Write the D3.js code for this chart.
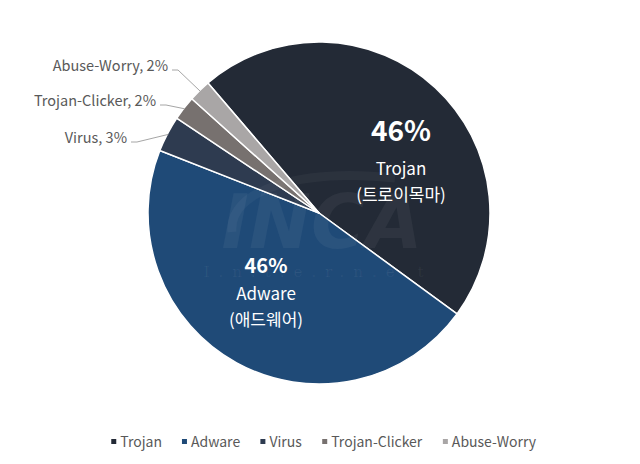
<!DOCTYPE html>
<html>
<head>
<meta charset="utf-8">
<script src="https://cdn.jsdelivr.net/npm/d3@7"></script>
<style>
  body { margin: 0; background: #fff; }
  svg { display: block; font-family: "Noto Sans CJK KR", "Noto Sans", sans-serif; }
</style>
</head>
<body>
<svg id="chart" width="640" height="464"></svg>
<script>
// share of detections by type (%)
var categories = ["Trojan", "Adware", "Virus", "Trojan-Clicker", "Abuse-Worry"];
var values = [46.3, 45.9, 3.4, 2.3, 2.1];
var pctLabels = ["46%", "46%", "3%", "2%", "2%"];
var koNames = ["(트로이목마)", "(애드웨어)", "", "", ""];
var colors = ["#232a36", "#1f4a77", "#2e3b50", "#77716f", "#a9a6a6"];

var svg = d3.select("#chart");
var cx = 319, cy = 213, radius = 171;

var data = categories.map(function(c, i) {
    return { name: c, value: values[i], pct: pctLabels[i], ko: koNames[i], color: colors[i] };
});

var pie = d3.pie()
    .sort(null)
    .value(function(d) { return d.value; })
    .startAngle(-40.5 * Math.PI / 180)
    .endAngle(319.5 * Math.PI / 180);

var arc = d3.arc().innerRadius(0).outerRadius(radius);
var edge = d3.arc().innerRadius(radius - 1).outerRadius(radius - 1);

var g = svg.append("g").attr("transform", "translate(" + cx + "," + cy + ")");
var arcs = pie(data);

g.selectAll("path.slice")
    .data(arcs)
    .enter().append("path")
    .attr("class", "slice")
    .attr("d", arc)
    .style("fill", function(d) { return d.data.color; })
    .style("stroke", "#fff")
    .style("stroke-width", 1.5)
    .style("stroke-linejoin", "round");

// faint watermark
var wm = svg.append("g").style("pointer-events", "none");
wm.append("path")
    .attr("d", "M232,232 C228,190 300,168 395,178")
    .style("fill", "none")
    .style("stroke", "#fff")
    .style("stroke-opacity", 0.04)
    .style("stroke-width", 9);
wm.append("text")
    .attr("x", 322).attr("y", 248)
    .attr("text-anchor", "middle")
    .style("font-family", "'DejaVu Sans', sans-serif")
    .style("font-weight", "bold")
    .style("font-style", "italic")
    .style("font-size", "74px")
    .style("fill", "#fff")
    .style("fill-opacity", 0.05)
    .text("INCA");
wm.append("text")
    .attr("x", 318).attr("y", 277)
    .attr("text-anchor", "middle")
    .style("font-family", "'DejaVu Serif', serif")
    .style("font-size", "15px")
    .style("letter-spacing", "9px")
    .style("fill", "#fff")
    .style("fill-opacity", 0.06)
    .text("I.n.t.e.r.n.e.t");

// labels inside the two big slices
var inside = [
    { i: 0, x: 401, ys: [141, 175, 201], big: 28 },
    { i: 1, x: 266, ys: [273, 300, 326], big: 20 }
];
inside.forEach(function(L) {
    var d = data[L.i];
    var t = svg.append("g").style("fill", "#fff").attr("text-anchor", "middle");
    t.append("text").attr("x", L.x).attr("y", L.ys[0])
        .style("font-size", L.big + "px").style("font-weight", "bold").text(d.pct);
    t.append("text").attr("x", L.x).attr("y", L.ys[1])
        .style("font-size", "17px").text(d.name);
    t.append("text").attr("x", L.x).attr("y", L.ys[2])
        .style("font-size", "17px").text(d.ko);
});

// outside labels with leader lines for the small slices
var outside = { "Virus": [127, 138], "Trojan-Clicker": [156, 101], "Abuse-Worry": [168, 66] };
arcs.filter(function(a) { return outside[a.data.name]; }).forEach(function(a) {
    var pos = outside[a.data.name];
    var p0 = edge.centroid(a);
    p0 = [p0[0] + cx, p0[1] + cy];
    var yLine = pos[1] + 4;
    var pts = [p0, [pos[0] + 10, yLine], [pos[0] + 4, yLine]];
    svg.append("path")
        .attr("d", d3.line()(pts))
        .style("fill", "none")
        .style("stroke", "#a6a6a6")
        .style("stroke-width", 1);
    svg.append("text")
        .attr("x", pos[0]).attr("y", pos[1])
        .attr("dy", "0.35em")
        .attr("text-anchor", "end")
        .style("font-size", "14.5px")
        .style("fill", "#595959")
        .text(a.data.name + ", " + a.data.pct);
});

// legend
var legend = svg.append("g");
var items = legend.selectAll("g")
    .data(data)
    .enter().append("g");
items.append("rect")
    .attr("width", 5).attr("height", 5)
    .attr("y", -3)
    .style("fill", function(d) { return d.color; });
items.append("text")
    .attr("x", 9).attr("dy", "0.35em")
    .style("font-size", "14px")
    .style("fill", "#595959")
    .text(function(d) { return d.name; });
var xoff = 0;
items.each(function() {
    var w = this.getBBox().width;
    d3.select(this).attr("transform", "translate(" + xoff + ",0)");
    xoff += w + 20;
});
var total = xoff - 20;
legend.attr("transform", "translate(" + (324 - total / 2) + ",442)");
</script>
</body>
</html>
